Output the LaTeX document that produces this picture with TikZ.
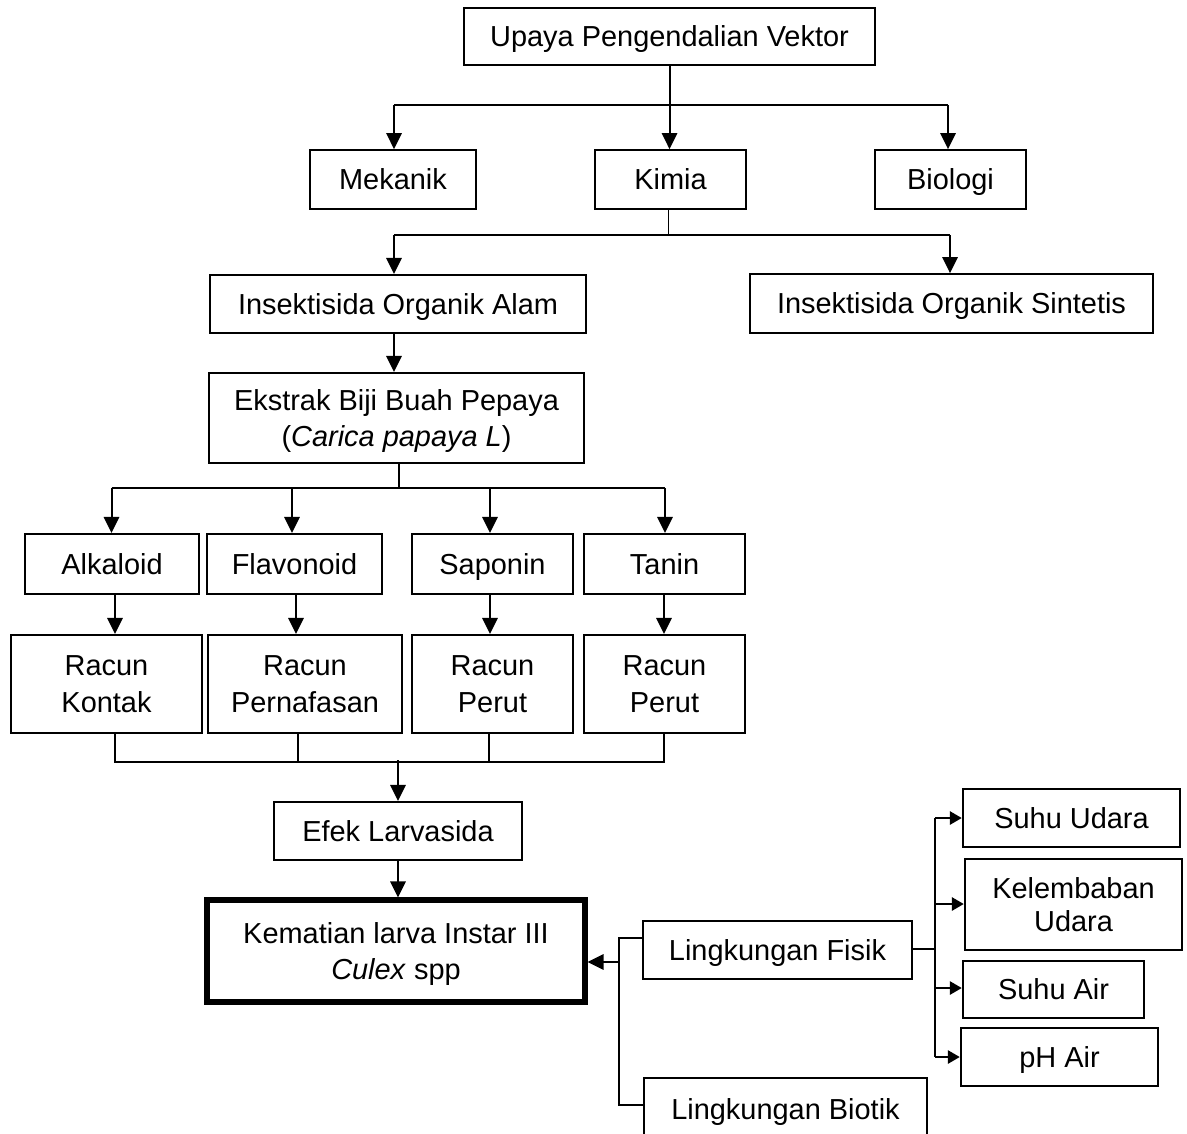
\documentclass[tikz,border=0pt]{standalone}
\usepackage{fontspec}
\setmainfont{Liberation Sans}
\usetikzlibrary{arrows.meta}
\begin{document}
\begin{tikzpicture}[x=0.75pt,y=-0.75pt,
  box/.style={draw, line width=1.6pt, inner sep=0pt, align=center,
    font=\fontsize{21.7}{26.5}\selectfont},
  one/.style={text height=17.6pt, text depth=2.1pt},
  thickbox/.style={box, line width=3.8pt},
  arr/.style={line width=1.5pt, -{Triangle[length=12pt,width=11.5pt]}},
  sarr/.style={line width=1.5pt, -{Triangle[length=9pt,width=10pt]}},
  ln/.style={line width=1.5pt},
  thinln/.style={line width=0.8pt}]
\useasboundingbox[fill=white] (0,0) rectangle (1187,1133);

\node[box, one, minimum width=308pt, minimum height=43pt] (top) at (669.5,36.5) {Upaya Pengendalian Vektor};
\node[box, one, minimum width=124.5pt, minimum height=44pt] (mek) at (393,179.5) {Mekanik};
\node[box, one, minimum width=113pt, minimum height=44pt] (kim) at (670.5,179.5) {Kimia};
\node[box, one, minimum width=113pt, minimum height=44pt] (bio) at (950.5,179.5) {Biologi};
\node[box, one, minimum width=282pt, minimum height=43.5pt] (alam) at (398,304) {Insektisida Organik Alam};
\node[box, one, minimum width=302pt, minimum height=44pt] (sint) at (951.5,303.5) {Insektisida Organik Sintetis};
\node[box, text depth=-1pt, minimum width=281pt, minimum height=67.5pt] (eks) at (396.5,418) {Ekstrak Biji Buah Pepaya\\(\textit{Carica papaya L})};
\node[box, one, minimum width=130.5pt, minimum height=45pt] (alk) at (112,564) {Alkaloid};
\node[box, one, minimum width=131pt, minimum height=45pt] (fla) at (294.5,564) {Flavonoid};
\node[box, one, minimum width=121pt, minimum height=45pt] (sap) at (492.5,564) {Saponin};
\node[box, one, minimum width=121pt, minimum height=45pt] (tan) at (664.5,564) {Tanin};
\node[box, minimum width=143pt, minimum height=73.5pt, font=\fontsize{21.7}{27.5}\selectfont] (rk) at (106.5,684) {Racun\\Kontak};
\node[box, minimum width=145.5pt, minimum height=73.5pt, font=\fontsize{21.7}{27.5}\selectfont] (rp) at (305,684) {Racun\\Pernafasan};
\node[box, minimum width=121pt, minimum height=73.5pt, font=\fontsize{21.7}{27.5}\selectfont] (rpa) at (492.5,684) {Racun\\Perut};
\node[box, minimum width=121pt, minimum height=73.5pt, font=\fontsize{21.7}{27.5}\selectfont] (rpb) at (664.5,684) {Racun\\Perut};
\node[box, one, minimum width=186pt, minimum height=43.5pt] (efek) at (398,831) {Efek Larvasida};
\node[thickbox, text depth=-1pt, minimum width=283.5pt, minimum height=76.5pt] (kem) at (396,951) {Kematian larva Instar III\\\textit{Culex} spp};
\node[box, one, minimum width=202pt, minimum height=43.5pt] (fis) at (777.5,950) {Lingkungan Fisik};
\node[box, one, minimum width=212pt, minimum height=46.5pt] (biot) at (785.5,1109) {Lingkungan Biotik};
\node[box, one, minimum width=163pt, minimum height=43.5pt] (su) at (1071.5,818) {Suhu Udara};
\node[box, minimum width=163pt, minimum height=68pt, font=\fontsize{21.7}{24.5}\selectfont] (ku) at (1073.5,904.5) {Kelembaban\\Udara};
\node[box, one, minimum width=136pt, minimum height=43pt] (sa) at (1053.5,989.5) {Suhu Air};
\node[box, one, minimum width=148pt, minimum height=43.5pt] (ph) at (1059.5,1057) {pH Air};

% level 1
\coordinate (j1) at (669.5,105);
\draw[arr] (top.south) -- (top.south |- kim.north);
\draw[ln] (j1) -- (394,105) coordinate (j1l);
\draw[ln] (j1) -- (948,105) coordinate (j1r);
\draw[arr] (j1l) -- (j1l |- mek.north);
\draw[arr] (j1r) -- (j1r |- bio.north);

% level 2
\coordinate (j2) at (668.5,235);
\draw[thinln] (kim.south -| j2) -- (j2);
\draw[ln] (394,235) coordinate (j2l) -- (950,235) coordinate (j2r);
\draw[arr] (j2l) -- (j2l |- alam.north);
\draw[arr] (j2r) -- (j2r |- sint.north);

\draw[arr] (alam.south -| 394,0) -- (394,0 |- eks.north);

% level 3
\coordinate (j3) at (399,488);
\draw[thinln] (eks.south -| j3) -- (j3);
\draw[ln] (111.5,488) coordinate (j3a) -- (665,488) coordinate (j3d);
\coordinate (j3b) at (292,488);
\coordinate (j3c) at (490,488);
\draw[arr] (j3a) -- (j3a |- alk.north);
\draw[arr] (j3b) -- (j3b |- fla.north);
\draw[arr] (j3c) -- (j3c |- sap.north);
\draw[arr] (j3d) -- (j3d |- tan.north);

\draw[arr] (115,0 |- alk.south) -- (115,0 |- rk.north);
\draw[arr] (296,0 |- fla.south) -- (296,0 |- rp.north);
\draw[arr] (490,0 |- sap.south) -- (490,0 |- rpa.north);
\draw[arr] (664,0 |- tan.south) -- (664,0 |- rpb.north);

% merge
\draw[thinln] (115,0 |- rk.south) -- (115,762) -- (664,762) -- (664,0 |- rpb.south);
\draw[thinln] (298,0 |- rp.south) -- (298,762);
\draw[thinln] (489,0 |- rpa.south) -- (489,762);
\coordinate (j4) at (398,760);
\draw[arr] (j4) -- (j4 |- efek.north);
\draw[arr] (efek.south) -- (efek.south |- kem.north);

% lingkungan
\draw[thinln] (fis.west |- 0,938) -- (619,938) -- (619,1105) -- (biot.west |- 0,1105);
\coordinate (j5) at (619,962);
\draw[arr] (j5) -- (j5 -| kem.east);

\coordinate (j6) at (935,949);
\draw[thinln] (fis.east |- j6) -- (j6);
\draw[thinln] (935,818) -- (935,1057);
\draw[sarr] (935,818) -- (su.west |- 0,818);
\draw[sarr] (935,904) -- (ku.west |- 0,904);
\draw[sarr] (935,988) -- (sa.west |- 0,988);
\draw[sarr] (935,1057) -- (ph.west |- 0,1057);
\end{tikzpicture}
\end{document}
